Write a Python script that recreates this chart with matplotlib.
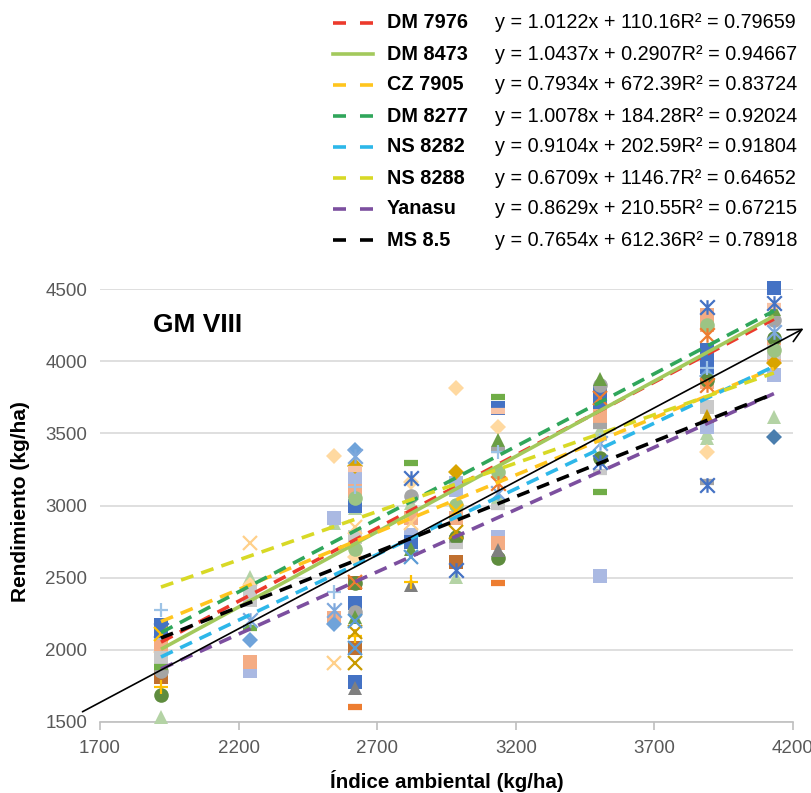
import numpy as np
import matplotlib
matplotlib.use('Agg')
import matplotlib.pyplot as plt
from matplotlib.lines import Line2D
from matplotlib.path import Path

plt.rcParams['font.family'] = ['Liberation Sans', 'DejaVu Sans']

nan = np.nan

# environment index (x) of each location
env = [1920, 2241, 2544, 2620, 2822, 2984, 3136, 3504, 3890, 4131]

# yields read per marker style, one value per environment (nan = not visible)
blue_square = [2170, nan, nan, 2324, 2750, nan, 3674, 3785, 4076, 4505]
blue_square_b = [2130, nan, nan, 1777, nan, nan, nan, nan, 4007, nan]
blue_square_c = [nan, nan, nan, 3000, nan, nan, nan, 3720, 3960, nan]
blue_star = [2140, nan, nan, nan, 3190, 2553, nan, 3300, 4374, 4401]
blue_star_b = [nan, nan, nan, nan, nan, nan, nan, nan, 3141, nan]
lblue_diamond = [nan, 2068, 2180, 3384, nan, nan, nan, nan, 3900, nan]
dblue_diamond = [nan, nan, nan, nan, nan, nan, nan, nan, nan, 3474]
lblue_star = [nan, 2206, 2275, 3340, nan, nan, 3086, 3432, nan, 4201]
lblue_x = [nan, nan, nan, 2200, 2643, nan, nan, nan, nan, nan]
light_plus = [2276, nan, 2400, 3130, nan, nan, 3370, 3453, 3952, nan]
orange_dash = [nan, nan, nan, 1604, nan, nan, 2463, nan, nan, nan]
orange_star = [nan, nan, nan, nan, nan, nan, 3155, nan, 4180, nan]
orange_star_b = [nan, nan, nan, nan, nan, nan, nan, nan, 3834, nan]
gray_circle = [1850, nan, nan, 2262, 3065, nan, nan, 3834, nan, 4284]
gray_triangle = [nan, nan, nan, 1735, 2449, nan, 2691, nan, nan, nan]
gray_dash = [nan, nan, nan, nan, nan, nan, 3384, 3550, 3160, nan]
gray_square = [nan, nan, nan, nan, nan, 2747, nan, nan, nan, nan]
lgray_square = [1940, 2400, nan, 2780, nan, nan, nan, nan, 3682, 4062]
lgray_square_b = [nan, 2345, nan, nan, nan, nan, nan, nan, nan, nan]
lgray_dash = [nan, nan, nan, nan, nan, 2720, 2990, 3231, nan, nan]
gold_plus = [1745, nan, nan, 2095, 2470, nan, nan, nan, nan, nan]
gold_x = [2110, nan, nan, nan, nan, 2960, nan, nan, nan, nan]
dgold_x = [nan, nan, nan, 2123, nan, 2816, nan, nan, nan, nan]
dgold_x_b = [nan, nan, nan, 1908, nan, nan, nan, nan, nan, nan]
dgold_diamond = [nan, nan, nan, 3273, nan, 3231, nan, nan, nan, 3986]
dgold_triangle = [nan, nan, nan, nan, nan, nan, nan, nan, 3619, nan]
green_circle = [1690, nan, nan, 2460, nan, 2780, 2636, 3328, 3870, 4159]
green_dash = [1880, 2150, nan, nan, 3293, nan, 3751, 3093, nan, nan]
green_triangle = [nan, nan, nan, 2230, 2700, nan, 3453, 3875, nan, 4360]
lgreen_triangle = [1535, 2504, 2880, 2980, 3020, 2504, 3060, 3522, 3467, 3612]
lgreen_triangle_b = [nan, nan, nan, nan, nan, nan, nan, nan, 3500, nan]
lgreen_circle = [nan, nan, nan, 3050, nan, 3003, 3231, nan, 4249, 4080]
lgreen_circle_b = [nan, nan, nan, 2700, nan, nan, nan, nan, nan, nan]
salmon_square = [2020, 1915, 2220, 3100, 2913, 2913, 2740, 3647, 4319, 4100]
salmon_square_b = [nan, nan, nan, nan, nan, nan, nan, 3605, 4249, 4040]
salmon_square_c = [nan, nan, nan, nan, nan, nan, nan, nan, 3855, nan]
salmon_dash = [nan, nan, nan, 3250, nan, nan, 3654, nan, nan, 4380]
lavender_square = [2050, 1850, 2913, 3200, 2795, 3155, 2781, 2511, 3543, 3903]
lavender_square_b = [nan, nan, nan, 3120, nan, 3107, nan, nan, nan, nan]
lgold_diamond = [1985, 2450, 3342, 2640, 3162, 3813, 3543, nan, 3370, nan]
lgold_x = [nan, 2740, 1908, 2850, 2878, nan, nan, nan, nan, nan]
brown_square = [1810, nan, nan, 2463, nan, 2608, nan, nan, nan, nan]
brown_square_b = [nan, nan, nan, 2012, nan, nan, nan, nan, nan, nan]
orange_x = [nan, nan, nan, 2470, nan, nan, nan, 3744, nan, nan]
lblue_x_b = [nan, nan, nan, 2012, nan, nan, nan, nan, nan, nan]

# trend lines
varieties = ['DM 7976', 'DM 8473', 'CZ 7905', 'DM 8277', 'NS 8282', 'NS 8288',
             'Yanasu', 'MS 8.5']
slopes = [1.0122, 1.0437, 0.7934, 1.0078, 0.9104, 0.6709, 0.8629, 0.7654]
intercepts = [110.16, 0.2907, 672.39, 184.28, 202.59, 1146.7, 210.55, 612.36]
r2 = [0.79659, 0.94667, 0.83724, 0.92024, 0.91804, 0.64652, 0.67215, 0.78918]
line_colors = ['#EC3A2C', '#A3C95C', '#FFC51E', '#30A65B', '#2DB7E9',
               '#D8D926', '#7C4F9F', '#000000']

# reference arrow
ref_x = [1628, 4247]
ref_y = [1562, 4235]

star = Path([(0, -1), (0, 1), (-1, -1), (1, 1), (-1, 1), (1, -1)],
            [Path.MOVETO, Path.LINETO] * 3)

styles = [
    (lgreen_triangle, '#B4D3A5', '^'), (lgreen_triangle_b, '#B4D3A5', '^'),
    (lgold_diamond, '#FFD9A0', 'D'), (lavender_square, '#AAB9E2', 's'),
    (lavender_square_b, '#AAB9E2', 's'), (salmon_square, '#F4AC84', 's'),
    (salmon_square_b, '#F4AC84', 's'), (salmon_square_c, '#F4AC84', 's'),
    (lgray_square, '#C9C9C9', 's'), (lgray_square_b, '#C9C9C9', 's'),
    (gray_square, '#A5A5A5', 's'), (blue_square, '#4472C4', 's'),
    (blue_square_b, '#4472C4', 's'), (blue_square_c, '#4472C4', 's'),
    (brown_square, '#C0702F', 's'), (brown_square_b, '#C0702F', 's'),
    (lblue_diamond, '#6FA3DA', 'D'), (dblue_diamond, '#4A7EAE', 'D'),
    (dgold_diamond, '#D9A400', 'D'), (gray_circle, '#A5A5A5', 'o'),
    (green_circle, '#5E8C3E', 'o'), (lgreen_circle, '#9CC484', 'o'),
    (lgreen_circle_b, '#9CC484', 'o'), (gray_triangle, '#7F7F7F', '^'),
    (green_triangle, '#6A9E45', '^'), (dgold_triangle, '#C99A00', '^'),
    (orange_dash, '#ED7D31', '_'), (gray_dash, '#A5A5A5', '_'),
    (lgray_dash, '#C9C9C9', '_'), (green_dash, '#70AD47', '_'),
    (salmon_dash, '#F8C3A6', '_'), (blue_star, '#4472C4', star),
    (blue_star_b, '#4472C4', star), (lblue_star, '#7EA8DC', star),
    (orange_star, '#ED7D31', star), (orange_star_b, '#ED7D31', star),
    (light_plus, '#9DC3E6', '+'), (gold_plus, '#FFC000', '+'),
    (gold_x, '#FFC000', 'x'), (dgold_x, '#C99A00', 'x'),
    (dgold_x_b, '#C99A00', 'x'), (lgold_x, '#FFD08A', 'x'),
    (orange_x, '#ED7D31', 'x'), (lblue_x, '#5B9BD5', 'x'),
    (lblue_x_b, '#5B9BD5', 'x'),
]

W, H = 812, 793
fig = plt.figure(figsize=(W / 100, H / 100), dpi=100)
ax = fig.add_axes([100 / W, 1 - 722 / H, 693 / W, 433 / H])

for ys, col, mk in styles:
    if mk in ('x', '+') or mk is star:
        ax.plot(env, ys, ls='none', marker=mk, ms=10.5, mew=1.6, mec=col,
                clip_on=False, zorder=3)
    elif mk == '_':
        ax.plot(env, ys, ls='none', marker=mk, ms=10.5, mew=4.5, mec=col,
                clip_on=False, zorder=3)
    else:
        size = {'s': 10, 'D': 8, 'o': 10.5, '^': 10.5}[mk]
        ax.plot(env, ys, ls='none', marker=mk, ms=size, mfc=col, mec=col,
                mew=0, clip_on=False, zorder=3)

x_fit = np.array([min(env), max(env)])
for i in range(len(varieties)):
    y_fit = slopes[i] * x_fit + intercepts[i]
    if varieties[i] == 'DM 8473':
        ax.plot(x_fit, y_fit, color=line_colors[i], lw=2.6, zorder=4,
                solid_capstyle='butt')
    else:
        ax.plot(x_fit, y_fit, color=line_colors[i], lw=2.6, zorder=4,
                dashes=(3.6, 2.3))

ax.annotate('', xy=(ref_x[1], ref_y[1]), xytext=(ref_x[0], ref_y[0]),
            arrowprops=dict(arrowstyle='->', lw=1.2, color='black',
                            mutation_scale=24),
            annotation_clip=False, zorder=5)

ax.set_xlim(1700, 4200)
ax.set_ylim(1500, 4500)
ax.set_xticks(np.arange(1700, 4201, 500))
ax.set_yticks(np.arange(1500, 4501, 500))
for s in ['top', 'right', 'left']:
    ax.spines[s].set_visible(False)
ax.spines['bottom'].set_color('#BFBFBF')
ax.spines['bottom'].set_linewidth(1.2)
ax.yaxis.grid(True, color='#D9D9D9', lw=1.2)
ax.set_axisbelow(True)
ax.tick_params(axis='x', direction='out', length=6, width=1.2,
               color='#BFBFBF', labelcolor='#595959', labelsize=13.5, pad=7)
ax.tick_params(axis='y', length=0, labelcolor='#595959', labelsize=13.5,
               pad=9)

fig.text(153 / W, 1 - 325 / H, 'GM VIII', fontsize=19, fontweight='bold',
         va='center', ha='left')
fig.text(21 / W, 1 - 502 / H, 'Rendimiento (kg/ha)', fontsize=15,
         fontweight='bold', rotation=90, va='center', ha='center')
fig.text(447 / W, 1 - 781 / H, 'Índice ambiental (kg/ha)', fontsize=14.8,
         fontweight='bold', va='center', ha='center')

# legend drawn by hand: handle, bold name, equation
for i in range(len(varieties)):
    yy = 1 - (23 + 31 * i) / H
    h = Line2D([333 / W, 373 / W], [yy, yy], transform=fig.transFigure,
               color=line_colors[i], lw=2.6)
    if varieties[i] != 'DM 8473':
        h.set_dashes((13 / 1.389 / 2.6, 14 / 1.389 / 2.6))
    fig.add_artist(h)
    fig.text(387 / W, yy, varieties[i], fontsize=14.3, fontweight='bold',
             va='center', ha='left')
    eq = 'y = {:.5g}x + {:.5g}R² = {:.5g}'.format(slopes[i], intercepts[i],
                                                   r2[i])
    fig.text(495 / W, yy, eq, fontsize=14.3, va='center', ha='left')

fig.savefig('out.png', dpi=100)
